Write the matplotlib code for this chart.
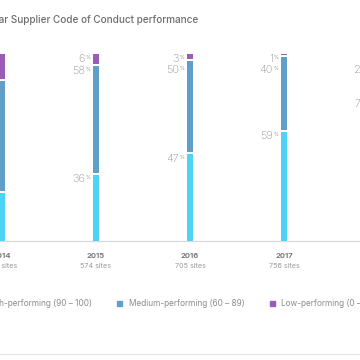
import matplotlib
matplotlib.use("Agg")
import matplotlib.pyplot as plt
from matplotlib import transforms
from matplotlib.lines import Line2D
from matplotlib.patches import Rectangle

plt.rcParams['font.family'] = ['Inter', 'DejaVu Sans']

years = ["2014", "2015", "2016", "2017", "2018"]
sites = ["633 sites", "574 sites", "705 sites", "756 sites", "1,049 sites"]
high = [26, 36, 47, 59, 76]
medium = [60, 58, 50, 40, 23]
low = [14, 6, 3, 1, 1]
series_names = ["High-performing (90 – 100)", "Medium-performing (60 – 89)", "Low-performing (0 – 59)"]
colors = ["#4fd3f4", "#5f9fc9", "#9a5cb4"]
title = "Year over year Supplier Code of Conduct performance"

W = H = 360
fig = plt.figure(figsize=(3.6, 3.6), dpi=100)
fig.patch.set_facecolor("white")

def fx(x):
    return x / W

def fy(y):
    return 1 - y / H

base_px, top_px = 241, 54
spacing = 94.0
first_px = 2.0
ax = fig.add_axes([0, fy(base_px), 1, (base_px - top_px) / H])
ax.set_xlim(-first_px / spacing, (W - first_px) / spacing)
ax.set_ylim(0, 100)
ax.axis("off")

bw = 6 / spacing
gap = 2 * 100 / (base_px - top_px)
txt_col = "#969696"

ax.axhline(0, color="#d8d8d8", lw=0.9, clip_on=False, zorder=1)

for i in range(len(years)):
    vals = [high[i], medium[i], low[i]]
    bottom = 0
    tops = []
    for j, v in enumerate(vals):
        b = bottom + (gap / 2 if j > 0 else 0)
        h = v - (gap / 2 if j > 0 else 0) - (gap / 2 if j < 2 else 0)
        ax.bar(i, h, bottom=b, width=bw, color=colors[j], linewidth=0, zorder=2)
        bottom += v
        tops.append(bottom)
    order = [2, 1, 0]
    prev = None
    minsep = 11 * 100 / (base_px - top_px)
    left = i - bw / 2
    for j in order:
        y = tops[j]
        if prev is not None and prev - y < minsep:
            y = prev - minsep
        prev = y
        t_pct = transforms.offset_copy(ax.transData, fig=fig, x=-3, y=-1.5, units="dots")
        t_num = transforms.offset_copy(ax.transData, fig=fig, x=-8, y=-0.5, units="dots")
        ax.text(left, y, str(vals[j]), transform=t_num, ha="right", va="top",
                fontsize=7.9, color=txt_col, fontweight="light", clip_on=False)
        ax.text(left, y, "%", transform=t_pct, ha="right", va="top",
                fontsize=3.6, color=txt_col, clip_on=False)

blend = transforms.blended_transform_factory(ax.transData, fig.transFigure)
for i in range(len(years)):
    ax.text(i, fy(256), years[i], transform=blend, ha="center", va="center",
            fontsize=5.5, fontweight="bold", color="#7a7a7a", clip_on=False)
    ax.text(i, fy(266), sites[i], transform=blend, ha="center", va="center",
            fontsize=5.2, color="#9a9a9a", clip_on=False)

fig.text(fx(198), fy(20), title, ha="right", va="center", fontsize=7.2,
         fontweight="medium", color="#6e6e6e")

leg_y = 303
leg_fs = 5.9
fig.text(fx(92), fy(leg_y), series_names[0], ha="right", va="center", fontsize=leg_fs, color="#8c8c8c")
fig.text(fx(129), fy(leg_y), series_names[1], ha="left", va="center", fontsize=leg_fs, color="#8c8c8c")
fig.text(fx(281), fy(leg_y), series_names[2], ha="left", va="center", fontsize=leg_fs, color="#8c8c8c")
for xm, c in [(119, colors[1]), (272, colors[2])]:
    fig.patches.append(Rectangle((fx(xm - 2.5), fy(leg_y + 2.5)), 5 / W, 5 / H,
                                 transform=fig.transFigure, color=c, figure=fig))

fig.lines.append(Line2D([0, 1], [fy(354), fy(354)], transform=fig.transFigure,
                        color="#e2e2e2", lw=0.8))

fig.savefig("out.png", dpi=100, facecolor="white")
